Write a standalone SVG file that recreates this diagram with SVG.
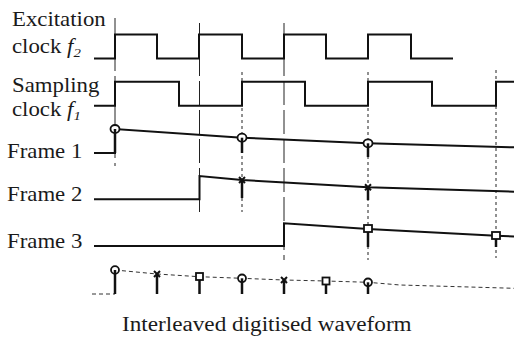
<svg xmlns="http://www.w3.org/2000/svg" width="514" height="338" viewBox="0 0 514 338">
<style>
.lbl{font-family:"Liberation Serif","Times New Roman",serif;font-size:20px;fill:#1a1a1a}
.wave{fill:none;stroke:#111;stroke-width:2;stroke-linejoin:miter}
.stem{stroke:#111;stroke-width:2.5}
.long{stroke:#222;stroke-width:1;stroke-dasharray:24 5}
.dot{stroke:#222;stroke-width:1;stroke-dasharray:3 3}
.mk{fill:#fff;stroke:#111;stroke-width:1.8}
.xm{stroke:#111;stroke-width:2}
.dash{fill:none;stroke:#333;stroke-width:1;stroke-dasharray:4 3}
</style>
<rect width="514" height="338" fill="#fff"/>
<g id="guides">
<line class="long" x1="115" y1="18" x2="115" y2="166" stroke-dasharray="40 5"/>
<line class="long" x1="199.5" y1="23" x2="199.5" y2="212"/>
<line class="long" x1="284" y1="23" x2="284" y2="260"/>
<line class="dot" x1="242" y1="72" x2="242" y2="212"/>
<line class="dot" x1="368" y1="72" x2="368" y2="260"/>
<line class="dot" x1="496" y1="70" x2="496" y2="258"/>
</g>
<g id="labels">
<text class="lbl" transform="translate(12,26) scale(1.14,1)">Excitation</text>
<text class="lbl" transform="translate(12,53) scale(1.14,1)">clock <tspan font-style="italic">f</tspan><tspan font-size="13" dy="4" font-style="italic">2</tspan></text>
<text class="lbl" transform="translate(12,92) scale(1.14,1)">Sampling</text>
<text class="lbl" transform="translate(12,116) scale(1.14,1)">clock <tspan font-style="italic">f</tspan><tspan font-size="13" dy="4" font-style="italic">1</tspan></text>
<text class="lbl" transform="translate(7,158) scale(1.14,1)">Frame 1</text>
<text class="lbl" transform="translate(7,201) scale(1.14,1)">Frame 2</text>
<text class="lbl" transform="translate(7,248) scale(1.14,1)">Frame 3</text>
<text class="lbl" transform="translate(122,331) scale(1.16,1)">Interleaved digitised waveform</text>
</g>
<g id="excitation-clock">
<path class="wave" d="M94,58.5 H115 V34.5 H157 V58.5 H199 V34.5 H242 V58.5 H284 V34.5 H326 V58.5 H368 V34.5 H411 V58.5 H453"/>
</g>
<g id="sampling-clock">
<path class="wave" d="M94,105.7 H115 V81.7 H179 V105.7 H242 V81.7 H305 V105.7 H368 V81.7 H432 V105.7 H496 V81.7 H514"/>
</g>
<g id="frame1">
<path class="wave" d="M94,153 H115 V129 L242,137.7 L368,143.3 L514,147.3"/>
<line class="stem" x1="115" y1="129" x2="115" y2="153"/>
<line class="stem" x1="242" y1="138" x2="242" y2="153"/>
<line class="stem" x1="368" y1="143.5" x2="368" y2="157"/>
<ellipse class="mk" cx="115" cy="129" rx="4.5" ry="4"/>
<ellipse class="mk" cx="242" cy="137.7" rx="4.5" ry="4"/>
<ellipse class="mk" cx="368" cy="143.3" rx="4.5" ry="4"/>
<line class="stem" x1="115" y1="129" x2="115" y2="133"/>
<line class="stem" x1="242" y1="137.7" x2="242" y2="142"/>
<line class="stem" x1="368" y1="143.3" x2="368" y2="147"/>
</g>
<g id="frame2">
<path class="wave" d="M94,199.3 H199.5 V176 L242,180 L368,187.3 L514,191.7"/>
<line class="stem" x1="242" y1="180" x2="242" y2="198"/>
<line class="stem" x1="368" y1="187.3" x2="368" y2="200"/>
<path class="xm" d="M239,177 L245,183 M245,177 L239,183"/>
<path class="xm" d="M365,184.3 L371,190.3 M371,184.3 L365,190.3"/>
</g>
<g id="frame3">
<path class="wave" d="M94,246 H284 V223.3 L368,229 L496,235.7 L514,236.5"/>
<line class="stem" x1="368" y1="229" x2="368" y2="247"/>
<line class="stem" x1="496" y1="235.7" x2="496" y2="247"/>
<rect class="mk" x="364" y="225" width="8" height="7" stroke-width="1.5"/>
<rect class="mk" x="492" y="232" width="8" height="7" stroke-width="1.5"/>
</g>
<g id="interleaved">
<path class="dash" d="M92,294 H115"/>
<polyline class="dash" points="115,270 157,274 199,276.7 242,278.3 284,280 326,281 368,282.3 400,285 514,288.3"/>
<line class="stem" x1="115" y1="270" x2="115" y2="294"/>
<line class="stem" x1="157" y1="274" x2="157" y2="294"/>
<line class="stem" x1="199.5" y1="276.7" x2="199.5" y2="294"/>
<line class="stem" x1="242" y1="278.3" x2="242" y2="294"/>
<line class="stem" x1="284" y1="280" x2="284" y2="294"/>
<line class="stem" x1="326" y1="281" x2="326" y2="294"/>
<line class="stem" x1="368" y1="282.3" x2="368" y2="294"/>
<ellipse class="mk" cx="115" cy="270" rx="4" ry="3.8"/>
<ellipse class="mk" cx="242" cy="278.3" rx="4" ry="3.8"/>
<ellipse class="mk" cx="368" cy="282.3" rx="4" ry="3.8"/>
<line class="stem" x1="115" y1="270" x2="115" y2="274"/>
<line class="stem" x1="242" y1="278.3" x2="242" y2="282"/>
<line class="stem" x1="368" y1="282.3" x2="368" y2="286"/>
<path class="xm" d="M154,271 L160,277 M160,271 L154,277"/>
<path class="xm" d="M281,277 L287,283 M287,277 L281,283"/>
<rect class="mk" x="196" y="273" width="7" height="7" stroke-width="1.5"/>
<rect class="mk" x="322.5" y="277.5" width="7" height="7" stroke-width="1.5"/>
</g>
</svg>
